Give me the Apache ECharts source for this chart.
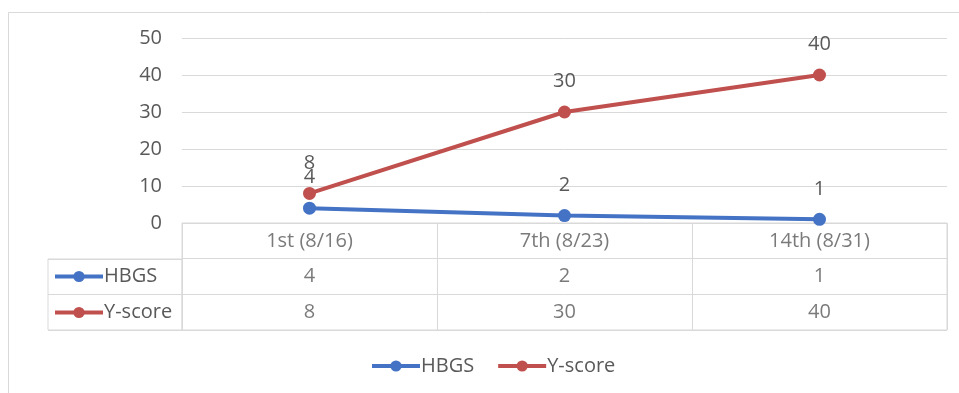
<!DOCTYPE html>
<html><head><meta charset="utf-8">
<script src="https://cdn.jsdelivr.net/npm/echarts@6/dist/echarts.min.js"></script>
<style>html,body{margin:0;padding:0;background:#fff}#c{width:959px;height:393px}</style>
</head><body><div id="c"></div>
<script>
const categories = ['1st (8/16)', '7th (8/23)', '14th (8/31)'];
const hbgs = [4, 2, 1];
const yscore = [8, 30, 40];
const seriesNames = ['HBGS', 'Y-score'];
const yTicks = { min: 0, max: 50, interval: 10 };

const FONT = '"Open Sans", "Noto Sans", sans-serif';
const TXT = '#595959';
const GRIDC = '#d9d9d9';
const BLUE = '#4472C4';
const RED = '#C0504D';
const FS = 20;

const rowKeys = ['header', seriesNames[0], seriesNames[1]];
const cellData = [];
categories.forEach((c, i) => {
  cellData.push([i, 0, c]);
  cellData.push([i, 1, String(hbgs[i])]);
  cellData.push([i, 2, String(yscore[i])]);
});

const chart = echarts.init(document.getElementById('c'), null, { renderer: 'canvas' });
chart.setOption({
  animation: false,
  textStyle: { fontFamily: FONT },
  graphic: [{
    type: 'rect', shape: { x: 8.5, y: 12.5, width: 1000, height: 500 },
    style: { fill: 'none', stroke: GRIDC, lineWidth: 1 }, silent: true, z: -10
  }],
  grid: [
    { left: 182, right: 12, top: 38, height: 185 },
    { left: 182, right: 12, top: 223, height: 107, show: true, borderColor: GRIDC, borderWidth: 1 },
    { left: 48, width: 134, top: 259, height: 71, show: true, borderColor: GRIDC, borderWidth: 1 }
  ],
  xAxis: [
    { gridIndex: 0, type: 'category', data: categories, boundaryGap: true,
      axisLine: { show: false }, axisTick: { show: false }, axisLabel: { show: false } },
    { gridIndex: 1, type: 'category', data: categories, boundaryGap: true,
      axisLine: { show: false }, axisTick: { show: false }, axisLabel: { show: false },
      splitLine: { show: true, lineStyle: { color: GRIDC, width: 1 } } },
    { gridIndex: 2, type: 'value', show: false }
  ],
  yAxis: [
    { gridIndex: 0, type: 'value', min: yTicks.min, max: yTicks.max, interval: yTicks.interval,
      axisLine: { show: false }, axisTick: { show: false },
      axisLabel: { color: TXT, fontSize: FS, margin: 20, fontFamily: FONT },
      splitLine: { lineStyle: { color: GRIDC, width: 1 } } },
    { gridIndex: 1, type: 'category', data: rowKeys, inverse: true, boundaryGap: true,
      axisLine: { show: false }, axisTick: { show: false }, axisLabel: { show: false },
      splitLine: { show: true, lineStyle: { color: GRIDC, width: 1 } } },
    { gridIndex: 2, type: 'category', data: seriesNames, inverse: true, boundaryGap: true,
      axisLine: { show: false }, axisTick: { show: false }, axisLabel: { show: false },
      splitLine: { show: true, lineStyle: { color: GRIDC, width: 1 } } }
  ],
  legend: [
    { data: seriesNames, left: 370, top: 356, padding: 0, itemWidth: 48, itemHeight: 14, itemGap: 22,
      lineStyle: { width: 4 },
      textStyle: { color: TXT, fontSize: FS, fontFamily: FONT, padding: [0, 0, 0, -4] } },
    { data: seriesNames, orient: 'vertical', left: 53, top: 265, padding: 0, itemWidth: 48, itemHeight: 14, itemGap: 13,
      selectedMode: false, lineStyle: { width: 4 },
      textStyle: { color: TXT, fontSize: FS, lineHeight: 23, fontFamily: FONT, padding: [0, 0, 0, -4] } }
  ],
  series: [
    { name: seriesNames[0], type: 'line', xAxisIndex: 0, yAxisIndex: 0, data: hbgs,
      symbol: 'circle', symbolSize: 13, color: BLUE,
      lineStyle: { color: BLUE, width: 4 }, itemStyle: { color: BLUE },
      label: { show: true, position: 'top', distance: 14, color: TXT, fontSize: FS, fontFamily: FONT } },
    { name: seriesNames[1], type: 'line', xAxisIndex: 0, yAxisIndex: 0, data: yscore,
      symbol: 'circle', symbolSize: 13, color: RED,
      lineStyle: { color: RED, width: 4 }, itemStyle: { color: RED },
      label: { show: true, position: 'top', distance: 14, color: TXT, fontSize: FS, fontFamily: FONT } },
    { type: 'scatter', xAxisIndex: 1, yAxisIndex: 1, data: cellData, symbolSize: 1,
      itemStyle: { color: 'rgba(0,0,0,0)' }, silent: true,
      label: { show: true, position: 'inside', formatter: p => p.value[2],
        color: TXT, fontSize: FS, fontFamily: FONT } }
  ]
});
</script></body></html>
